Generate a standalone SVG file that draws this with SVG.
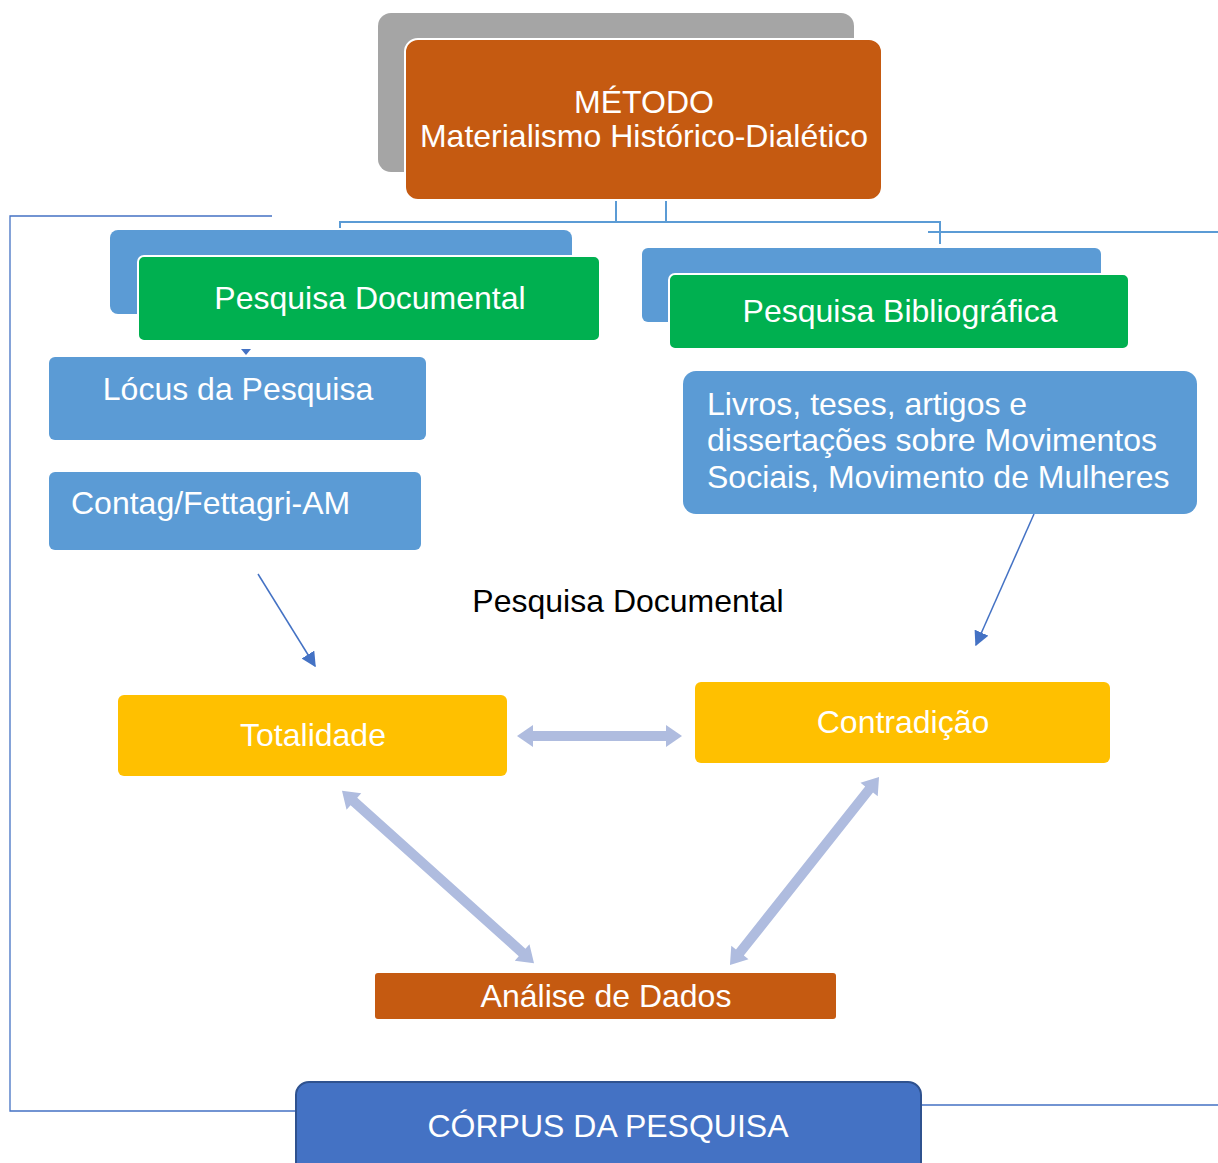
<svg xmlns="http://www.w3.org/2000/svg" width="1218" height="1163" viewBox="0 0 1218 1163">
<defs>
<style>
text{font-family:"Liberation Sans",Arial,sans-serif;fill:#fff;font-size:32px}
.tree{fill:none;stroke:#5B9BD5;stroke-width:2}
.brk{fill:none;stroke:#4472C4;stroke-width:1.3}
.thin{fill:none;stroke:#4472C4;stroke-width:1.5;marker-end:url(#ah)}
.blk{fill:#AFBCDF}
.bk{fill:#5B9BD5}
.gr{fill:#00B050;stroke:#fff;stroke-width:2}
.ye{fill:#FFC000}
</style>
<marker id="ah" viewBox="0 0 10 10" refX="9" refY="5" markerWidth="15" markerHeight="15" markerUnits="userSpaceOnUse" orient="auto">
<path d="M0,0 L10,5 L0,10 Z" fill="#4472C4"/>
</marker>
</defs>
<g id="connectors">
<path class="tree" d="M616,200 V222 M666,200 V222 M340,228 V222 H940 V244 M928,232 H1218"/>
<path class="brk" d="M272,216 H10 V1111 H297 M921,1105 H1218"/>
<path d="M241,349 L246,355 L251,349 Z" fill="#4472C4"/>
<line class="thin" x1="258" y1="574" x2="315" y2="666"/>
<line class="thin" x1="1034" y1="514" x2="976" y2="645"/>
<g transform="translate(599.5,736)"><polygon class="blk" points="-82.5,0 -66.5,-11 -66.5,-5 66.5,-5 66.5,-11 82.5,0 66.5,11 66.5,5 -66.5,5 -66.5,11"/></g>
<g transform="translate(438,877) rotate(41.9)"><polygon class="blk" points="-129,0 -113,-11 -113,-5 113,-5 113,-11 129,0 113,11 113,5 -113,5 -113,11"/></g>
<g transform="translate(804.5,871) rotate(128.4)"><polygon class="blk" points="-120,0 -104,-11 -104,-5 104,-5 104,-11 120,0 104,11 104,5 -104,5 -104,11"/></g>
</g>
<g id="metodo">
<rect x="378" y="13" width="476" height="159" rx="13" fill="#A5A5A5"/>
<rect x="405" y="39" width="477" height="161" rx="13" fill="#C55A11" stroke="#fff" stroke-width="2"/>
<text x="644" y="113" text-anchor="middle">MÉTODO</text>
<text x="644" y="147" text-anchor="middle">Materialismo Histórico-Dialético</text>
</g>
<g id="pesq-doc">
<rect class="bk" x="110" y="230" width="462" height="84" rx="8"/>
<rect class="gr" x="138" y="256" width="462" height="85" rx="6"/>
<text x="370" y="309" text-anchor="middle">Pesquisa Documental</text>
</g>
<g id="pesq-bib">
<rect class="bk" x="642" y="248" width="459" height="74" rx="6"/>
<rect class="gr" x="669" y="274" width="460" height="75" rx="6"/>
<text x="900" y="322" text-anchor="middle">Pesquisa Bibliográfica</text>
</g>
<g id="locus">
<rect class="bk" x="49" y="357" width="377" height="83" rx="6"/>
<text x="238" y="400" text-anchor="middle">Lócus da Pesquisa</text>
</g>
<g id="contag">
<rect class="bk" x="49" y="472" width="372" height="78" rx="6"/>
<text x="71" y="514">Contag/Fettagri-AM</text>
</g>
<g id="livros">
<rect class="bk" x="683" y="371" width="514" height="143" rx="13"/>
<text x="707" y="415">Livros, teses, artigos e</text>
<text x="707" y="451">dissertações sobre Movimentos</text>
<text x="707" y="488">Sociais, Movimento de Mulheres</text>
</g>
<g id="label-doc">
<text x="628" y="612" text-anchor="middle" style="fill:#000">Pesquisa Documental</text>
</g>
<g id="totalidade">
<rect class="ye" x="118" y="695" width="389" height="81" rx="6"/>
<text x="313" y="746" text-anchor="middle">Totalidade</text>
</g>
<g id="contradicao">
<rect class="ye" x="695" y="682" width="415" height="81" rx="6"/>
<text x="903" y="733" text-anchor="middle">Contradição</text>
</g>
<g id="analise">
<rect x="375" y="973" width="461" height="46" rx="3" fill="#C55A11"/>
<text x="606" y="1007" text-anchor="middle">Análise de Dados</text>
</g>
<g id="corpus">
<rect x="296" y="1082" width="625" height="100" rx="13" fill="#4472C4" stroke="#2F528F" stroke-width="2"/>
<text x="608" y="1137" text-anchor="middle">CÓRPUS DA PESQUISA</text>
</g>
</svg>
